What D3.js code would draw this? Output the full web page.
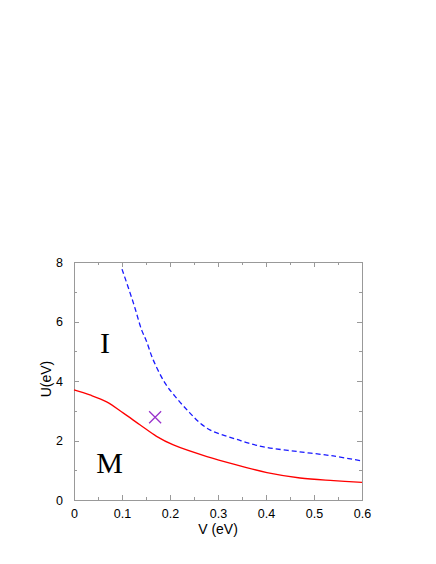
<!DOCTYPE html>
<html>
<head>
  <script src="https://d3js.org/d3.v7.min.js"></script>
  <style>
    body { margin: 0; background: #fff; }
    .axis text { font-family: "Liberation Sans", Arial, sans-serif; font-size: 12.5px; fill: #000; }
    .axis path, .axis line { stroke: #999; shape-rendering: crispEdges; }
    .label { font-family: "Liberation Sans", Arial, sans-serif; font-size: 14px; }
    .region { font-family: "Liberation Serif", "Times New Roman", serif; font-size: 30px; }
  </style>
</head>
<body>
<script>
  // metal-insulator boundary (solid) and upper line (dashed)
  var redV = [0, 0.033, 0.068, 0.103, 0.138, 0.172, 0.207, 0.277, 0.346, 0.402, 0.471, 0.541, 0.6];
  var redU = [3.70, 3.53, 3.30, 2.92, 2.52, 2.14, 1.85, 1.46, 1.15, 0.92, 0.74, 0.65, 0.59];
  var blueV = [0.10, 0.124, 0.141, 0.150, 0.165, 0.190, 0.215, 0.240, 0.263, 0.284, 0.311, 0.339, 0.364, 0.40, 0.47, 0.54, 0.60];
  var blueU = [7.76, 6.61, 5.71, 5.38, 4.71, 3.92, 3.40, 2.95, 2.58, 2.35, 2.18, 2.04, 1.91, 1.77, 1.62, 1.48, 1.31];
  var crossPoint = [0.169, 2.78];
  var xTicks = [0, 0.1, 0.2, 0.3, 0.4, 0.5, 0.6];
  var yTicks = [0, 2, 4, 6, 8];

  var margin = {top: 262, right: 74, bottom: 64, left: 74},
    width = 436 - margin.left - margin.right,
    height = 564 - margin.top - margin.bottom;

  var svg = d3.select("body").append("svg")
    .attr("width", 436)
    .attr("height", 564)
    .append("g")
    .attr("transform", "translate(" + margin.left + "," + margin.top + ")");

  var x = d3.scaleLinear().domain([0, 0.6]).range([0, width]);
  var y = d3.scaleLinear().domain([0, 8]).range([height, 0]);

  var minorX = d3.range(0, 0.6001, 0.05);
  var minorY = d3.range(0, 8.001, 1);

  // bottom
  svg.append("g").attr("class", "axis")
    .attr("transform", "translate(0," + height + ")")
    .call(d3.axisBottom(x).tickValues(minorX).tickSizeInner(-3).tickSizeOuter(0).tickFormat(""));
  svg.append("g").attr("class", "axis")
    .attr("transform", "translate(0," + height + ")")
    .call(d3.axisBottom(x).tickValues(xTicks).tickSizeInner(-5).tickSizeOuter(0).tickPadding(9)
      .tickFormat(function(d) { return d === 0 ? "0" : d3.format(".1f")(d); }));
  // top
  svg.append("g").attr("class", "axis")
    .call(d3.axisTop(x).tickValues(minorX).tickSizeInner(-3).tickSizeOuter(0).tickFormat(""));
  svg.append("g").attr("class", "axis")
    .call(d3.axisTop(x).tickValues(xTicks).tickSizeInner(-5).tickSizeOuter(0).tickFormat(""));
  // left
  svg.append("g").attr("class", "axis")
    .call(d3.axisLeft(y).tickValues(minorY).tickSizeInner(-3).tickSizeOuter(0).tickFormat(""));
  svg.append("g").attr("class", "axis")
    .call(d3.axisLeft(y).tickValues(yTicks).tickSizeInner(-5).tickSizeOuter(0).tickPadding(11));
  // right
  svg.append("g").attr("class", "axis")
    .attr("transform", "translate(" + width + ",0)")
    .call(d3.axisRight(y).tickValues(minorY).tickSizeInner(-3).tickSizeOuter(0).tickFormat(""));
  svg.append("g").attr("class", "axis")
    .attr("transform", "translate(" + width + ",0)")
    .call(d3.axisRight(y).tickValues(yTicks).tickSizeInner(-5).tickSizeOuter(0).tickFormat(""));

  var line = d3.line()
    .x(function(d) { return x(d[0]); })
    .y(function(d) { return y(d[1]); })
    .curve(d3.curveCatmullRom.alpha(0.5));

  svg.append("path")
    .datum(redV.map(function(v, i) { return [v, redU[i]]; }))
    .attr("d", line)
    .attr("fill", "none")
    .attr("stroke", "#ff0000")
    .attr("stroke-width", 1.3);

  svg.append("path")
    .datum(blueV.map(function(v, i) { return [v, blueU[i]]; }))
    .attr("d", line)
    .attr("fill", "none")
    .attr("stroke", "#1a1aff")
    .attr("stroke-width", 1.3)
    .attr("stroke-dasharray", "5,3");

  var cx = x(crossPoint[0]), cy = y(crossPoint[1]), s = 6;
  svg.append("path")
    .attr("d", "M" + (cx - s) + "," + (cy - s) + "L" + (cx + s) + "," + (cy + s) +
      "M" + (cx - s) + "," + (cy + s) + "L" + (cx + s) + "," + (cy - s))
    .attr("stroke", "#9932cc")
    .attr("stroke-width", 1.3);

  svg.append("text").attr("class", "region")
    .attr("x", 31).attr("y", 91).attr("text-anchor", "middle").text("I");
  svg.append("text").attr("class", "region")
    .attr("x", 35.5).attr("y", 211).attr("text-anchor", "middle").text("M");

  svg.append("text").attr("class", "label")
    .attr("x", width / 2).attr("y", height + 34)
    .attr("text-anchor", "middle").text("V (eV)");
  svg.append("text").attr("class", "label")
    .attr("transform", "translate(" + (-23) + "," + (y(4) - 2) + ") rotate(-90)")
    .attr("text-anchor", "middle").text("U(eV)");
</script>
</body>
</html>
